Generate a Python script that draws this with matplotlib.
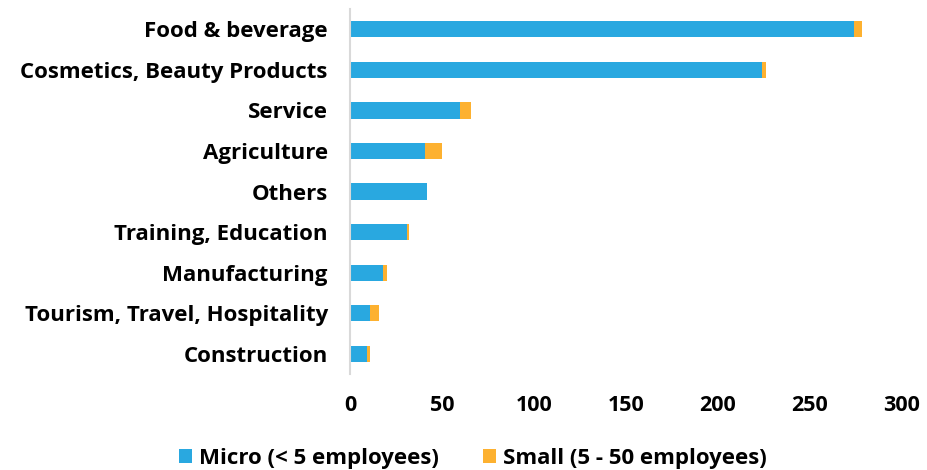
import matplotlib
matplotlib.use("Agg")
import matplotlib.pyplot as plt

categories = ["Food & beverage", "Cosmetics, Beauty Products", "Service", "Agriculture",
              "Others", "Training, Education", "Manufacturing",
              "Tourism, Travel, Hospitality", "Construction"]
micro = [274, 224, 60, 41, 42, 31, 18, 11, 9]
small = [4, 2, 6, 9, 0, 1, 2, 5, 2]

blue = "#29A8E0"
orange = "#FDB130"

plt.rcParams['font.family'] = ['Open Sans', 'DejaVu Sans']
plt.rcParams['font.weight'] = 'bold'

fig = plt.figure(figsize=(9.27, 4.70), dpi=100)
ax = fig.add_axes([350 / 927, 1 - 374 / 470, 552 / 927, 365 / 470])

y = list(range(len(categories)))
ax.barh(y, micro, height=0.4, color=blue, label="Micro (< 5 employees)")
ax.barh(y, small, left=micro, height=0.4, color=orange, label="Small (5 - 50 employees)")

ax.set_xlim(0, 300)
ax.set_ylim(len(categories) - 0.5, -0.5)
ax.set_yticks(y)
ax.set_yticklabels(categories, fontsize=16, fontweight='bold')
ax.set_xticks(range(0, 301, 50))
ax.tick_params(axis='x', labelsize=15.5, length=0, pad=15)
ax.tick_params(axis='y', length=0, pad=16)
for lbl in ax.get_xticklabels():
    lbl.set_fontweight('bold')

for s in ["top", "right", "bottom"]:
    ax.spines[s].set_visible(False)
ax.spines["left"].set_color("#d9d9d9")
ax.spines["left"].set_linewidth(1.5)

fig.legend(loc="lower center", bbox_to_anchor=(0.51, -0.04), ncol=2, frameon=False,
           prop={'size': 16, 'weight': 'bold'}, handlelength=0.6, handleheight=0.6,
           handletextpad=0.3, columnspacing=2.0)

fig.savefig("out.png", dpi=100)
